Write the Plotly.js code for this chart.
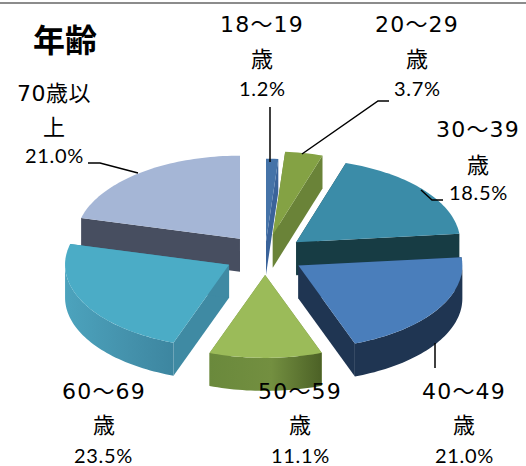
<!DOCTYPE html>
<html><head><meta charset="utf-8">
<script src="https://cdn.plot.ly/plotly-3.0.1.min.js"></script>
<style>html,body{margin:0;padding:0;background:#fff}</style></head>
<body><div id="chart" style="width:526px;height:466px"></div>
<script>
const categories = ['18～19','20～29','30～39','40～49','50～59','60～69','70歳以'];
const percents = [1.2,3.7,18.5,21.0,11.1,23.5,21.0];
const pulls = [0.16,0.25,0.245,0.24,0.24,0.248,0.249];
const topColors = ['#4573a8','#84a244','#3b8ca8','#4a7ebb','#9bbb59','#4bacc6','#a5b6d6'];
const wallColors = ['#3a639a','#6a8338','#173c44','#1f3552','#6f8a3d','#3f8aa3','#474e60'];
const arcScales = [null,null,null,null,
  [[0,'#6a893c'],[0.55,'#738f40'],[1,'#4c6126']],
  [[0,'#4ca3bd'],[0.6,'#4491ab'],[1,'#3d86a0']],
  null];
const drawOrder = [6,0,1,2,3,5,4];

// pie geometry
const CX=265, CY=255, RX=164, RY=83, DEPTH=33;
const total = percents.reduce((a,b)=>a+b,0);
let acc=0;
const slices = percents.map((p,i)=>{const a=acc/total*360; acc+=p; const b=acc/total*360; return {i,a,b};});
const rad=d=>d*Math.PI/180;
const traces=[];
function poly(xs,ys,color,scale){
  const t={type:'scatter',mode:'none',x:xs,y:ys,fill:'toself',fillcolor:color,hoverinfo:'skip',showlegend:false};
  if(scale) t.fillgradient={type:'horizontal',colorscale:scale};
  traces.push(t);
}
function arcPts(ax,ay,from,to){
  const xs=[],ys=[]; const n=Math.max(2,Math.ceil(Math.abs(to-from)/1.5));
  for(let k=0;k<=n;k++){const t=rad(from+(to-from)*k/n); xs.push(ax+RX*Math.sin(t)); ys.push(ay-RY*Math.cos(t));}
  return [xs,ys];
}
drawOrder.forEach(idx=>{
  const s=slices[idx]; const mid=rad((s.a+s.b)/2);
  const ax=CX+pulls[idx]*RX*Math.sin(mid), ay=CY-pulls[idx]*RY*Math.cos(mid);
  [s.a,s.b].forEach(th=>{
    const ex=ax+RX*Math.sin(rad(th)), ey=ay-RY*Math.cos(rad(th));
    poly([ax,ex,ex,ax,ax],[ay,ey,ey+DEPTH,ay+DEPTH,ay],wallColors[idx]);
  });
  const f=Math.max(s.a,90), t=Math.min(s.b,270);
  if(f<t){
    const [xs,ys]=arcPts(ax,ay,f,t);
    poly(xs.concat(xs.slice().reverse(),[xs[0]]),ys.concat(ys.map(v=>v+DEPTH).reverse(),[ys[0]]),wallColors[idx],arcScales[idx]);
  }
  const [tx,ty]=arcPts(ax,ay,s.a,s.b);
  poly([ax].concat(tx,[ax]),[ay].concat(ty,[ay]),topColors[idx]);
});
// leader lines
const leaders=[
  [[270,270],[107,162]],
  [[389,378,302],[101,101,154]],
  [[443,432,421],[200,200,190]],
  [[435,435],[343,368]],
  [[88,100,138],[163,163,173]]
];
leaders.forEach(l=>traces.push({type:'scatter',mode:'lines',x:l[0],y:l[1],line:{color:'#000',width:1.5},hoverinfo:'skip',showlegend:false}));

// labels: x of the label, second line text, y of three lines
const labelX=[262,417,478,464,300,103.5,54];
const labelY=[[24,57,88],[24,57,88],[129,163,192],[391,423,455],[391,423,455],[391,423,455],[93,125,155]];
const secondLines=['歳','歳','歳','歳','歳','歳','上'];
const ann=[];
function addText(x,y,text,size,family){
  ann.push({xref:'x',yref:'y',x,y,text,showarrow:false,xanchor:'center',yanchor:'middle',
    font:{size,family,color:'#000'}});
}
const CJK='"Noto Sans CJK JP"';
const DIG='"DejaVu Sans",'+CJK;
categories.forEach((c,i)=>{
  const ls = i===6 ? 0.5 : 1.2;
  addText(labelX[i],labelY[i][0],`<span style="letter-spacing:${ls}px">${c}</span>`,22,DIG);
  addText(labelX[i],labelY[i][1],secondLines[i],22,CJK);
  addText(labelX[i],labelY[i][2],`<span style="letter-spacing:0.7px">${percents[i].toFixed(1)}%</span>`,20,'Lato');
});
addText(65,38,'<b>年齢</b>',32,CJK);

Plotly.newPlot('chart',traces,{
  width:526,height:466,margin:{l:0,r:0,t:0,b:0},
  paper_bgcolor:'#fff',plot_bgcolor:'#fff',showlegend:false,
  xaxis:{range:[0,526],visible:false,fixedrange:true},
  yaxis:{range:[466,0],visible:false,fixedrange:true},
  annotations:ann,
  shapes:[{type:'line',xref:'paper',yref:'y',x0:0,x1:1,y0:3,y1:3,line:{color:'#8c8c8c',width:2}}]
},{displayModeBar:false,staticPlot:true});
</script></body></html>
